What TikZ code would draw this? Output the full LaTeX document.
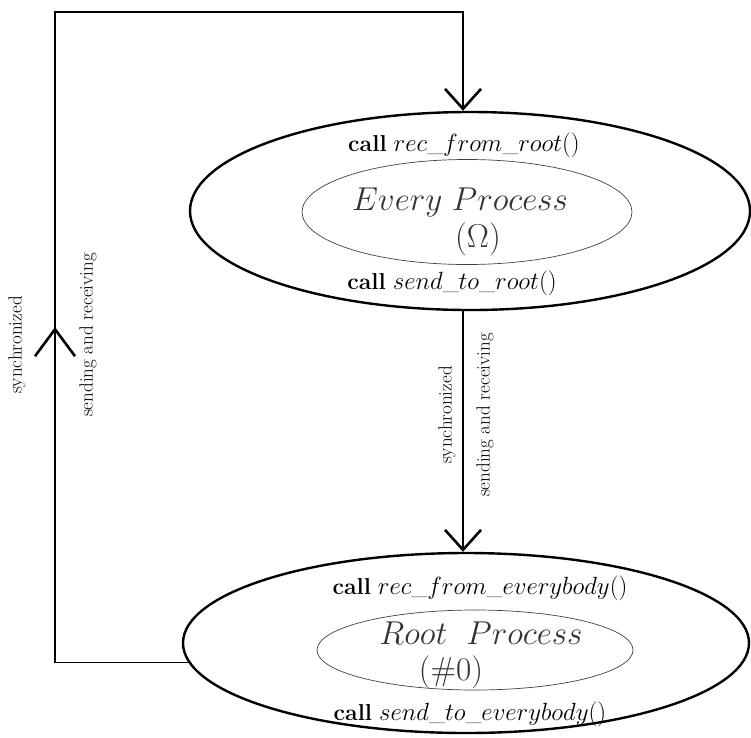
\documentclass[tikz,border=0pt]{standalone}
\usetikzlibrary{shapes.geometric,arrows.meta}
\tikzset{
  outer/.style={ellipse,draw,line width=2.4pt,inner sep=0pt},
  inner/.style={ellipse,draw=black!75,line width=0.7pt,inner sep=0pt},
  conn/.style={line width=1.7pt},
  barb/.style={-{Straight Barb[length=20pt,width=36pt,line width=2.6pt]}},
  barbbig/.style={-{Straight Barb[length=27pt,width=40pt,line width=2.6pt]}},
  lbl/.style={rotate=90,font=\fontsize{19}{22}\selectfont,inner sep=0pt},
  call/.style={font=\fontsize{23}{27}\selectfont,inner sep=0pt},
  proc/.style={font=\fontsize{24}{28}\selectfont,scale=1.33,text=black!80,inner sep=0pt}
}
\begin{document}
\begin{tikzpicture}[x=1pt,y=-1pt]
\useasboundingbox (0,0) rectangle (751,737);
% top ellipse
\node[outer,minimum width=560pt,minimum height=198pt] (every) at (470,211) {};
\node[inner,minimum width=330pt,minimum height=105pt] (everyin) at (467,212) {};
\node[call] (t1) at (464,145) {\textbf{call} $rec\_from\_root()$};
\node[proc] (t2) at (460,202) {$Every\ Process$};
\node[proc] (t3) at (478,239) {$(\Omega)$};
\node[call] (t4) at (452,283) {\textbf{call} $send\_to\_root()$};
% bottom ellipse
\node[outer,minimum width=566pt,minimum height=180pt] (root) at (466,643) {};
\node[inner,minimum width=316pt,minimum height=80pt] (rootin) at (475,650) {};
\node[call] (b1) at (480,588) {\textbf{call} $rec\_from\_everybody()$};
\node[proc] (b2) at (481,633) {$Root\ \ Process$};
\node[proc] (b3) at (451,672) {$(\#0)$};
\node[call] (b4) at (470,714) {\textbf{call} $send\_to\_everybody()$};
% connectors
\coordinate (tl) at (55,12);
\coordinate (tr) at (463,12);
\coordinate (chev) at (55,327);
\coordinate (chevb) at (55,370);
\draw[conn,barb] (root.184) -| (tl) -- (tr) -- (tr |- every.north);
\draw[conn,barbbig] (chevb) -- (chev);
\draw[conn,barb] (tr |- every.south) -- (tr |- root.north);
% labels
\node[lbl] (l1) at (17,345) {synchronized};
\node[lbl] (l2) at (88,335) {sending and receiving};
\node[lbl] (l3) at (447,415) {synchronized};
\node[lbl] (l4) at (485,415) {sending and receiving};
\end{tikzpicture}
\end{document}
